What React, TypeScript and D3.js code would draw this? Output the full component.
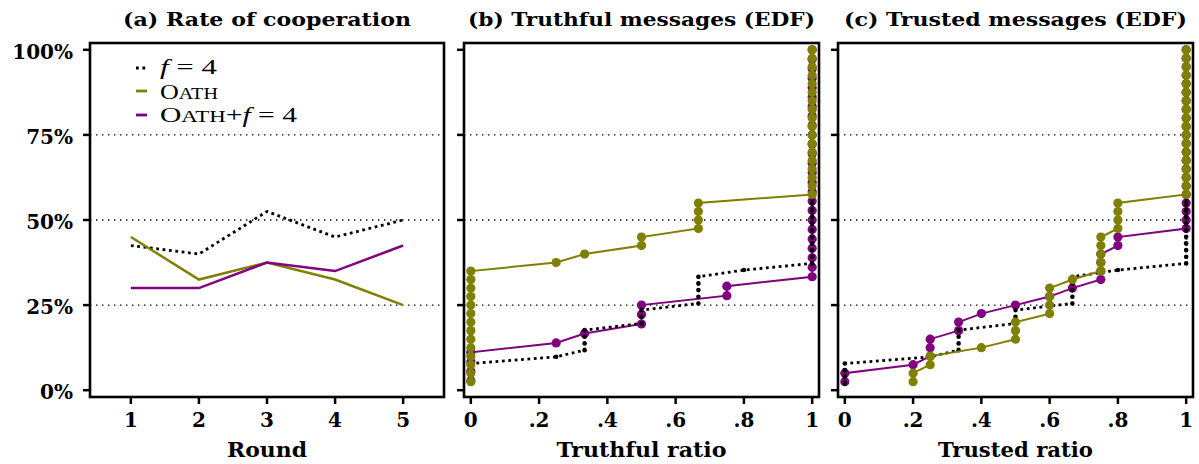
import React from 'react';
import * as d3 from 'd3';

// ---------- data ----------
const rounds = [1, 2, 3, 4, 5];
const coopF4 = [0.425, 0.4, 0.525, 0.45, 0.5];
const coopOath = [0.45, 0.325, 0.375, 0.325, 0.25];
const coopOathF4 = [0.3, 0.3, 0.375, 0.35, 0.425];

// EDF samples: distinct ratio values and how many observations share each value
const truthfulF4Values = [0, 0.25, 1 / 3, 0.5, 2 / 3, 0.8, 1];
const truthfulF4Counts = [4, 1, 4, 3, 5, 1, 33];
const truthfulOathValues = [0, 0.25, 1 / 3, 0.5, 2 / 3, 1];
const truthfulOathCounts = [14, 1, 1, 2, 4, 18];
const truthfulOathF4Values = [0, 0.25, 1 / 3, 0.5, 0.75, 1];
const truthfulOathF4Counts = [4, 1, 1, 3, 2, 25];

const trustedF4Values = [0, 0.25, 1 / 3, 0.5, 2 / 3, 0.8, 1];
const trustedF4Counts = [4, 1, 4, 3, 5, 1, 33];
const trustedOathValues = [0.2, 0.25, 0.4, 0.5, 0.6, 2 / 3, 0.75, 0.8, 1];
const trustedOathCounts = [2, 2, 1, 3, 4, 1, 5, 4, 18];
const trustedOathF4Values = [0, 0.2, 0.25, 1 / 3, 0.4, 0.5, 0.6, 2 / 3, 0.75, 0.8, 1];
const trustedOathF4Counts = [2, 1, 3, 2, 1, 1, 1, 1, 4, 2, 22];

const yTicks = [0, 0.25, 0.5, 0.75, 1];
const yTickLabels = ['0%', '25%', '50%', '75%', '100%'];
const ratioTicks = [0, 0.2, 0.4, 0.6, 0.8, 1];
const ratioTickLabels = ['0', '.2', '.4', '.6', '.8', '1'];
const gridLevels = [0.25, 0.5, 0.75];

const titles = ['(a) Rate of cooperation', '(b) Truthful messages (EDF)', '(c) Trusted messages (EDF)'];
const xLabels = ['Round', 'Truthful ratio', 'Trusted ratio'];

// ---------- style ----------
const W = 1199;
const H = 464;
const OLIVE = '#808000';
const PURPLE = '#800080';
const FONT = "'DejaVu Serif', serif";
const LFONT = "'Liberation Serif', serif";
const TOP = 43;
const BOTTOM = 397;
const PANELS = [
  { left: 90, right: 444 },
  { left: 464, right: 819 },
  { left: 838, right: 1193 },
];
const TITLE_LEN = [288, 347, 343];
const XLABEL_LEN = [80, 170, 155];
const LEGEND_LEN = [57, 58, 137];

function edf(values: number[], counts: number[]): [number, number][] {
  const n = d3.sum(counts);
  const pts: [number, number][] = [];
  let i = 0;
  values.forEach((v, k) => {
    for (let c = 0; c < counts[k]; c++) {
      i += 1;
      pts.push([v, i / n]);
    }
  });
  return pts;
}

const y = d3.scaleLinear().domain([-0.02, 1.02]).range([BOTTOM, TOP]);

function Frame({ p, xs, ticks, tickLabels, showY, idx }: any) {
  return (
    <g>
      {gridLevels.map((g) => (
        <line key={g} x1={p.left} x2={p.right} y1={y(g)} y2={y(g)} stroke="#000" strokeWidth={1.4} strokeDasharray="1.4,4.6" />
      ))}
      {yTicks.map((t, i) => (
        <g key={t}>
          <line x1={p.left - 7} x2={p.left} y1={y(t)} y2={y(t)} stroke="#000" strokeWidth={2.5} />
          {showY && (
            <text x={p.left - 17} y={y(t) + 9} textAnchor="end" fontFamily={FONT} fontWeight="bold" fontSize={20}>
              {yTickLabels[i]}
            </text>
          )}
        </g>
      ))}
      {ticks.map((t: number, i: number) => (
        <g key={t}>
          <line x1={xs(t)} x2={xs(t)} y1={BOTTOM} y2={BOTTOM + 7} stroke="#000" strokeWidth={2.5} />
          <text x={xs(t)} y={427} textAnchor="middle" fontFamily={FONT} fontWeight="bold" fontSize={20}>
            {tickLabels[i]}
          </text>
        </g>
      ))}
      <text x={(p.left + p.right) / 2} y={457} textAnchor="middle" fontFamily={FONT} fontWeight="bold" fontSize={20}
        textLength={XLABEL_LEN[idx]} lengthAdjust="spacingAndGlyphs">
        {xLabels[idx]}
      </text>
      <text x={(p.left + p.right) / 2} y={26} textAnchor="middle" fontFamily={FONT} fontWeight="bold" fontSize={18}
        textLength={TITLE_LEN[idx]} lengthAdjust="spacingAndGlyphs">
        {titles[idx]}
      </text>
    </g>
  );
}

function EdfSeries({ pts, xs, color, dotted }: any) {
  const line = d3.line<[number, number]>().x((d) => xs(d[0])).y((d) => y(d[1]));
  return (
    <g>
      <path d={line(pts) || ''} fill="none" stroke={color} strokeWidth={dotted ? 2.8 : 2}
        strokeDasharray={dotted ? '2.8,3.6' : undefined} />
      {pts.map((d: [number, number], i: number) => (
        <circle key={i} cx={xs(d[0])} cy={y(d[1])} r={dotted ? 2.3 : 4.6} fill={color} />
      ))}
    </g>
  );
}

export default function App() {
  const xa = d3.scaleLinear().domain([0.4, 5.6]).range([PANELS[0].left, PANELS[0].right]);
  const xb = d3.scaleLinear().domain([-0.02, 1.02]).range([PANELS[1].left, PANELS[1].right]);
  const xc = d3.scaleLinear().domain([-0.02, 1.02]).range([PANELS[2].left, PANELS[2].right]);

  const lineA = (vals: number[]) =>
    d3.line<number>().x((_, i) => xa(rounds[i])).y((d) => y(d))(vals) || '';

  const legend = [
    { label: 'f4', color: '#000', dotted: true },
    { label: 'oath', color: OLIVE, dotted: false },
    { label: 'oathf4', color: PURPLE, dotted: false },
  ];
  const legendY = [68, 91, 115];

  return (
    <svg width={W} height={H} style={{ position: 'absolute', left: 0, top: 0, background: '#fff' }}>
      {/* Panel a */}
      <Frame p={PANELS[0]} xs={xa} ticks={rounds} tickLabels={rounds.map(String)} showY idx={0} />
      <path d={lineA(coopF4)} fill="none" stroke="#000" strokeWidth={2.8} strokeDasharray="2.8,3.6" />
      <path d={lineA(coopOath)} fill="none" stroke={OLIVE} strokeWidth={2.5} />
      <path d={lineA(coopOathF4)} fill="none" stroke={PURPLE} strokeWidth={2.5} />
      {legend.map((l, i) => (
        <line key={l.label} x1={136} x2={147} y1={legendY[i]} y2={legendY[i]} stroke={l.color} strokeWidth={2.8}
          strokeDasharray={l.dotted ? '2.8,3.6' : undefined} />
      ))}
      <text x={160} y={legendY[0] + 6} fontFamily={LFONT} fontSize={22} textLength={LEGEND_LEN[0]} lengthAdjust="spacingAndGlyphs">
        <tspan fontStyle="italic">f</tspan> = 4
      </text>
      <text x={160} y={legendY[1] + 8} fontFamily={LFONT} fontSize={22} textLength={LEGEND_LEN[1]} lengthAdjust="spacingAndGlyphs">
        O<tspan fontSize={17}>ATH</tspan>
      </text>
      <text x={160} y={legendY[2] + 7} fontFamily={LFONT} fontSize={22} textLength={LEGEND_LEN[2]} lengthAdjust="spacingAndGlyphs">
        O<tspan fontSize={17}>ATH</tspan>+<tspan fontStyle="italic">f</tspan> = 4
      </text>
      <rect x={PANELS[0].left} y={TOP} width={PANELS[0].right - PANELS[0].left} height={BOTTOM - TOP} fill="none" stroke="#000" strokeWidth={2.6} />

      {/* Panel b */}
      <Frame p={PANELS[1]} xs={xb} ticks={ratioTicks} tickLabels={ratioTickLabels} showY={false} idx={1} />
      <EdfSeries pts={edf(truthfulOathF4Values, truthfulOathF4Counts)} xs={xb} color={PURPLE} />
      <EdfSeries pts={edf(truthfulF4Values, truthfulF4Counts)} xs={xb} color="#000" dotted />
      <EdfSeries pts={edf(truthfulOathValues, truthfulOathCounts)} xs={xb} color={OLIVE} />
      <rect x={PANELS[1].left} y={TOP} width={PANELS[1].right - PANELS[1].left} height={BOTTOM - TOP} fill="none" stroke="#000" strokeWidth={2.6} />

      {/* Panel c */}
      <Frame p={PANELS[2]} xs={xc} ticks={ratioTicks} tickLabels={ratioTickLabels} showY={false} idx={2} />
      <EdfSeries pts={edf(trustedOathF4Values, trustedOathF4Counts)} xs={xc} color={PURPLE} />
      <EdfSeries pts={edf(trustedF4Values, trustedF4Counts)} xs={xc} color="#000" dotted />
      <EdfSeries pts={edf(trustedOathValues, trustedOathCounts)} xs={xc} color={OLIVE} />
      <rect x={PANELS[2].left} y={TOP} width={PANELS[2].right - PANELS[2].left} height={BOTTOM - TOP} fill="none" stroke="#000" strokeWidth={2.6} />
    </svg>
  );
}
